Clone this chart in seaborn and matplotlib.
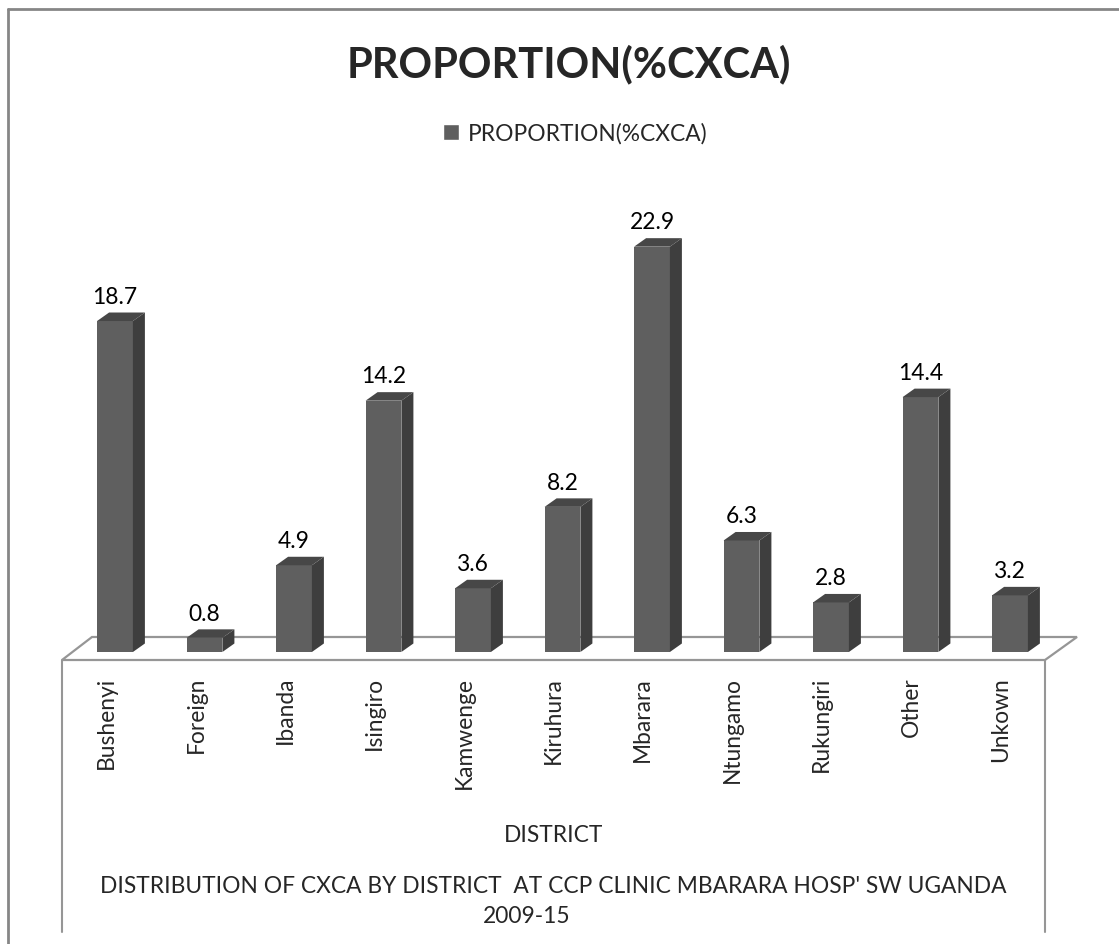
import numpy as np
import matplotlib
matplotlib.use("Agg")
import matplotlib.pyplot as plt
from matplotlib.lines import Line2D
from matplotlib.patches import Patch
import seaborn as sns

# data
districts = ['Bushenyi', 'Foreign', 'Ibanda', 'Isingiro', 'Kamwenge', 'Kiruhura',
             'Mbarara', 'Ntungamo', 'Rukungiri', 'Other', 'Unkown']
proportion = [18.7, 0.8, 4.9, 14.2, 3.6, 8.2, 22.9, 6.3, 2.8, 14.4, 3.2]
series_name = 'PROPORTION(%CXCA)'
x_title = 'DISTRICT'
caption_1 = "DISTRIBUTION OF CXCA BY DISTRICT  AT CCP CLINIC MBARARA HOSP' SW UGANDA"
caption_2 = '2009-15'

sns.set_style('white')
plt.rcParams['font.family'] = ['Lato', 'DejaVu Sans']

FRONT = '#5f5f5f'
SIDE = '#3e3e3e'
TOP = '#474747'
LINE = '#969696'
FS = 16.4

W, H = 1119, 945
fig = plt.figure(figsize=(W / 100, H / 100), dpi=100)
# axes spans the floor: left front corner to right back corner
ax = fig.add_axes([62 / W, 1 - 661 / H, 1015 / W, 461 / H])

sns.barplot(x=districts, y=proportion, color=FRONT, saturation=1, width=0.4,
            ax=ax, zorder=3, linewidth=0)

# 3d look: depth offsets in data units
px_cat, px_val = 89.5, 17.7
dx, dy = 12 / px_cat, 8.5 / px_val
x_left = (62 - 115) / px_cat
x_right_front = (1045 - 115) / px_cat
x_left_back = (92 - 115) / px_cat
x_right_back = x_left + 1015 / px_cat
y_front = -8 / px_val
y_back = 15 / px_val

ax.set_xlim(x_left, x_right_back)
ax.set_ylim(y_front, y_front + 461 / px_val)

# floor
ax.fill([x_left, x_left_back, x_right_back, x_right_front],
        [y_front, y_back, y_back, y_front],
        facecolor='white', edgecolor=LINE, linewidth=1.6, zorder=1, clip_on=False)

for p, v in zip(ax.patches, proportion):
    x0, w, h = p.get_x(), p.get_width(), p.get_height()
    x1 = x0 + w
    ax.fill([x1, x1 + dx, x1 + dx, x1], [0, dy, h + dy, h],
            color=SIDE, zorder=3, linewidth=0)
    ax.fill([x0, x0 + dx, x1 + dx, x1], [h, h + dy, h + dy, h],
            color=TOP, zorder=3, linewidth=0)
    ax.annotate(f'{v:.1f}', (x0 + w / 2, h), xytext=(0, 13.2),
                textcoords='offset points', ha='center', va='baseline',
                fontsize=FS, color='black')

# category labels centred on the front edge of the floor
step = (x_right_front - x_left) / len(districts)
ticks = x_left + step * (np.arange(len(districts)) + 0.5)
ax.set_xticks(ticks, districts, rotation=90, fontsize=FS)
ax.tick_params(axis='x', length=0, pad=11.5)
ax.set_yticks([])
for s in ax.spines.values():
    s.set_visible(False)

ax.set_xlabel(x_title, fontsize=FS)
ax.xaxis.label.set_va('baseline')
ax.xaxis.set_label_coords((553.5 - 62) / 1015, (661 - 842) / 461)

# table lines under the floor
for xf in [0, (1045 - 62) / 1015]:
    ax.add_line(Line2D([xf, xf], [0, (661 - 933) / 461], transform=ax.transAxes,
                       color=LINE, linewidth=1.5, clip_on=False))

fig.text(553.5 / W, 1 - 893 / H, caption_1, ha='center', va='baseline', fontsize=FS)
fig.text(527 / W, 1 - 923 / H, caption_2, ha='center', va='baseline', fontsize=FS)

fig.text(568.5 / W, 1 - 77 / H, series_name, ha='center', va='baseline',
         fontsize=30, fontweight='bold')

ax.legend(handles=[Patch(facecolor=FRONT)], labels=[series_name],
          loc='center', bbox_to_anchor=(575 / W, 1 - 134 / H),
          bbox_transform=fig.transFigure, frameon=False, fontsize=FS,
          handlelength=0.7, handleheight=0.7, handletextpad=0.4)

# chart frame
fig.add_artist(Line2D([8 / W, 8 / W], [0, 1 - 10 / H], color='#868686', linewidth=2))
fig.add_artist(Line2D([8 / W, 1], [1 - 10 / H, 1 - 10 / H], color='#868686', linewidth=2))

fig.savefig('out.png', dpi=100)
